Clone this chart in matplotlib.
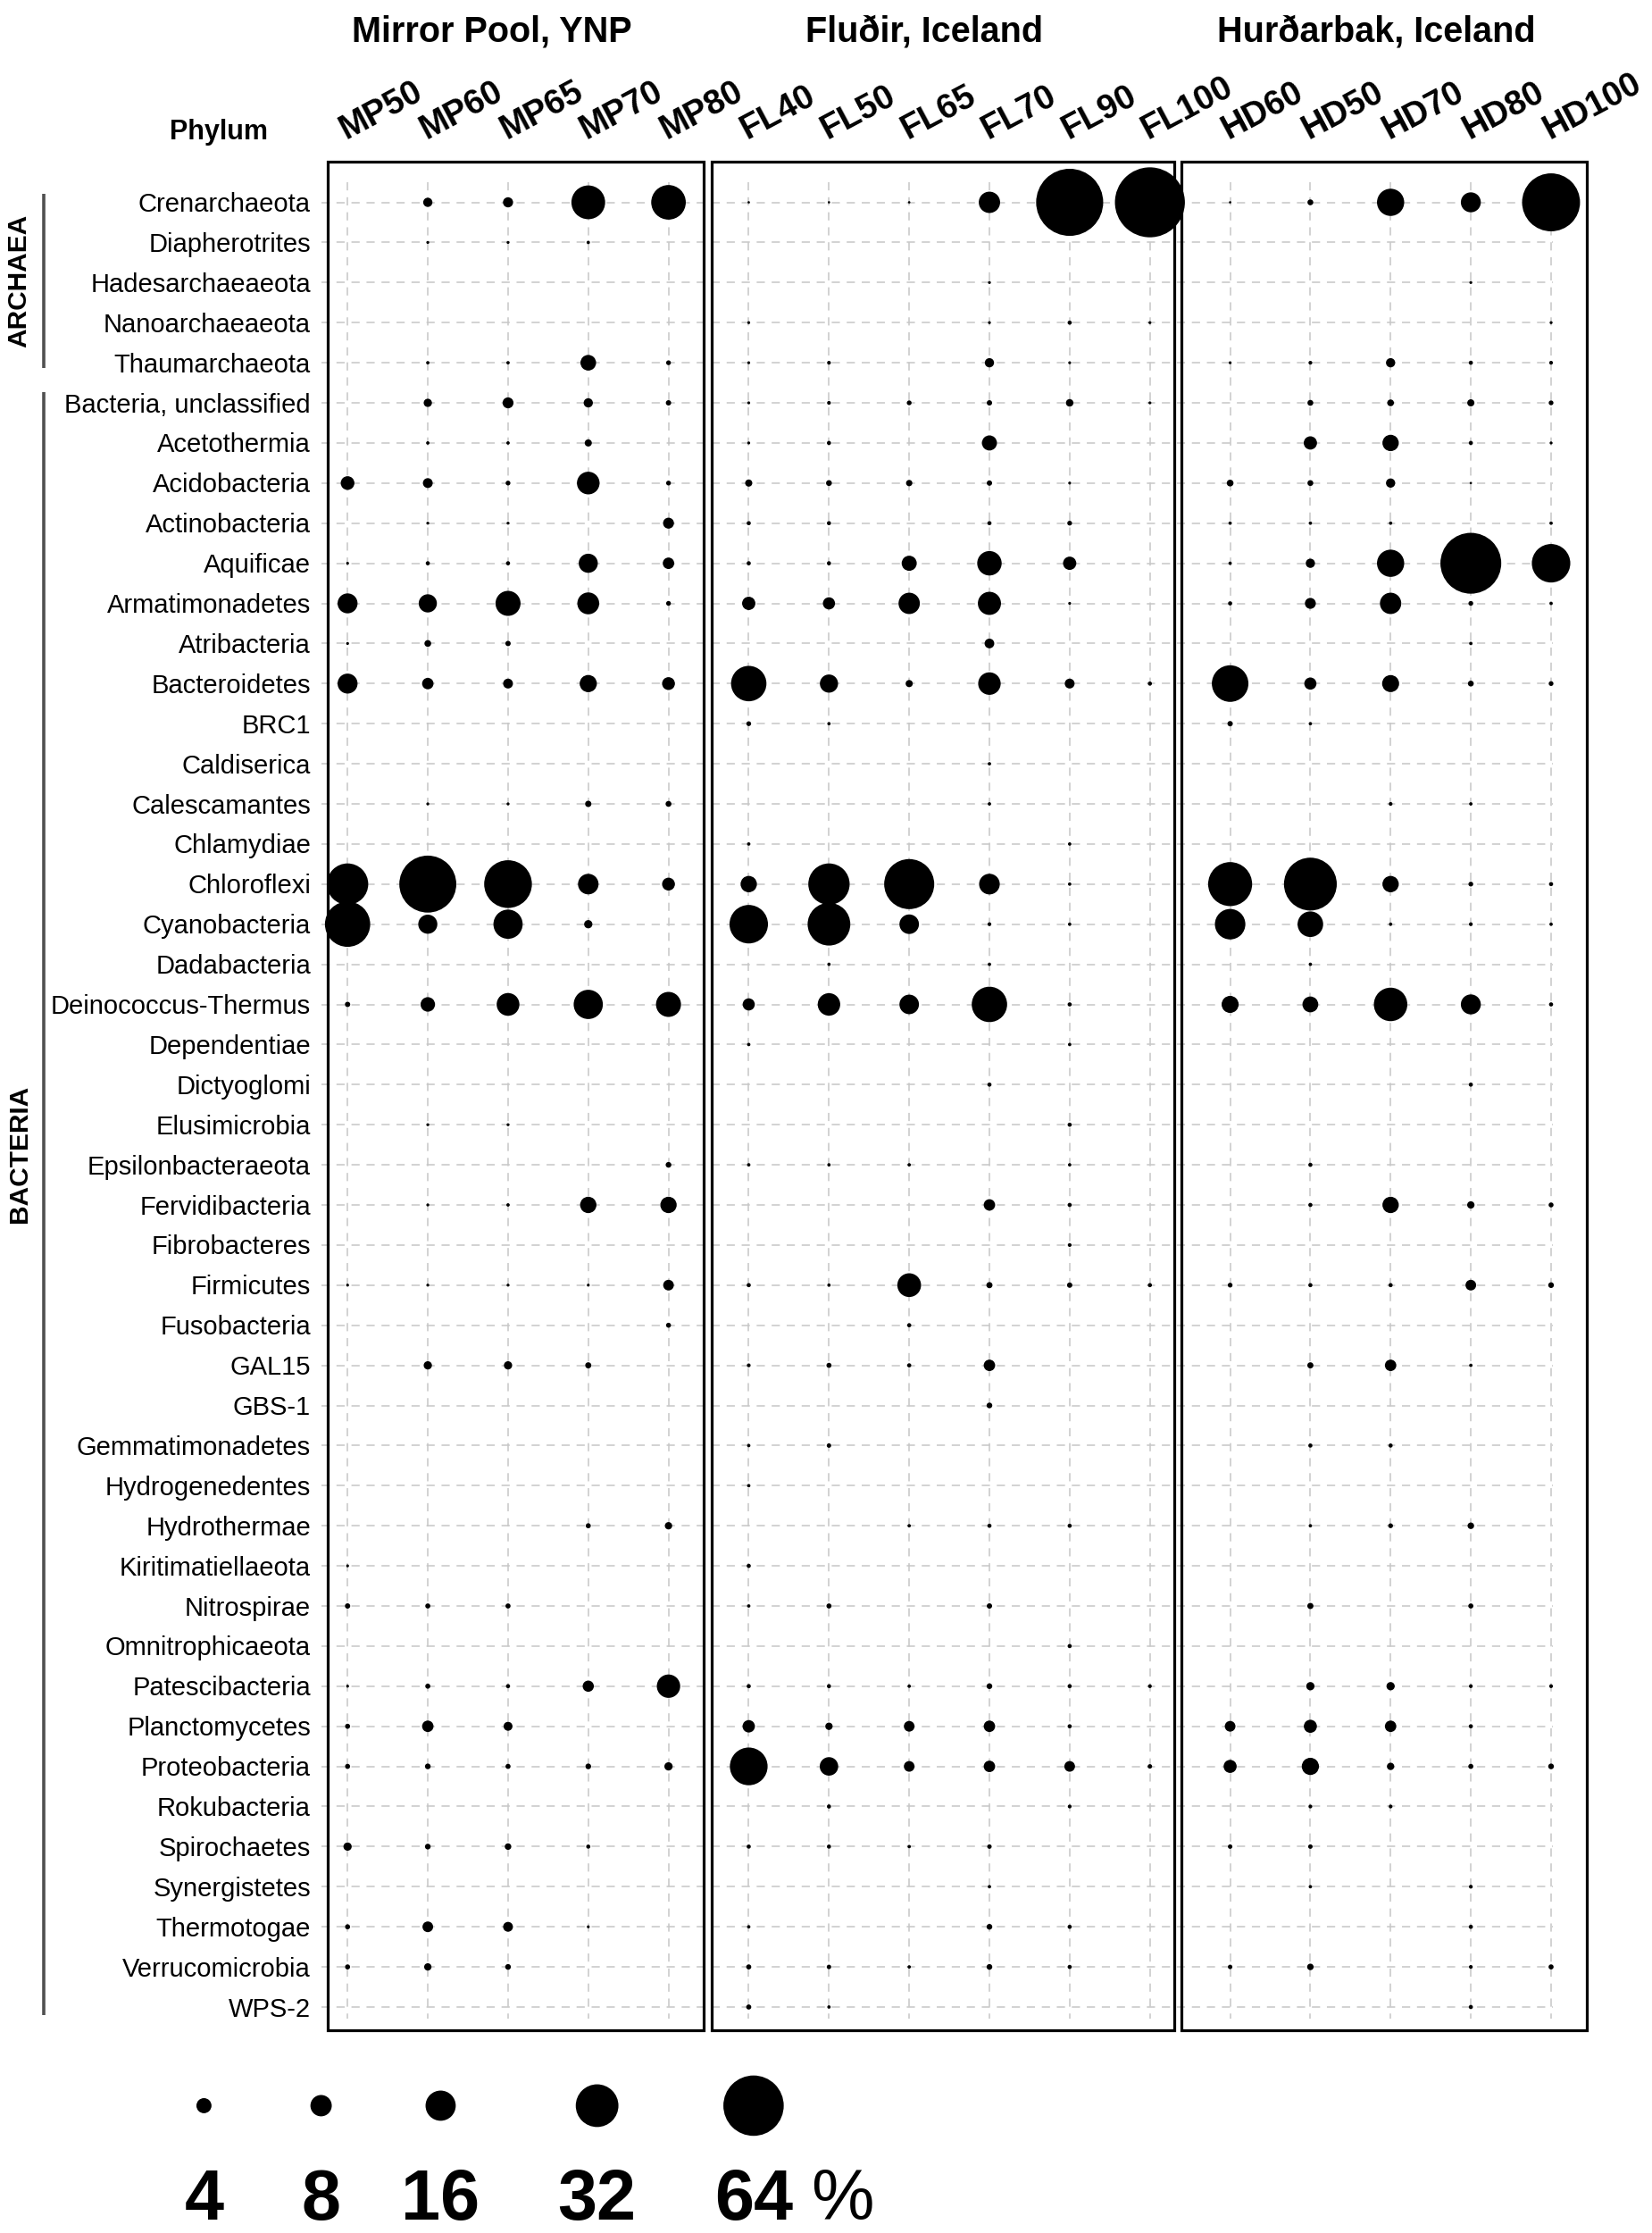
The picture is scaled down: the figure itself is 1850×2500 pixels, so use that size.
import numpy as np
import matplotlib
matplotlib.use("Agg")
import matplotlib.pyplot as plt
from matplotlib.patches import Rectangle

plt.rcParams["font.family"] = ["Liberation Sans", "DejaVu Sans"]

PHYLA = [
    "Crenarchaeota", "Diapherotrites", "Hadesarchaeaeota", "Nanoarchaeaeota",
    "Thaumarchaeota", "Bacteria, unclassified", "Acetothermia", "Acidobacteria",
    "Actinobacteria", "Aquificae", "Armatimonadetes", "Atribacteria",
    "Bacteroidetes", "BRC1", "Caldiserica", "Calescamantes", "Chlamydiae",
    "Chloroflexi", "Cyanobacteria", "Dadabacteria", "Deinococcus-Thermus",
    "Dependentiae", "Dictyoglomi", "Elusimicrobia", "Epsilonbacteraeota",
    "Fervidibacteria", "Fibrobacteres", "Firmicutes", "Fusobacteria", "GAL15",
    "GBS-1", "Gemmatimonadetes", "Hydrogenedentes", "Hydrothermae",
    "Kiritimatiellaeota", "Nitrospirae", "Omnitrophicaeota", "Patescibacteria",
    "Planctomycetes", "Proteobacteria", "Rokubacteria", "Spirochaetes",
    "Synergistetes", "Thermotogae", "Verrucomicrobia", "WPS-2",
]
N_ARCHAEA = 5

SAMPLES = ["MP50", "MP60", "MP65", "MP70", "MP80",
           "FL40", "FL50", "FL65", "FL70", "FL90", "FL100",
           "HD60", "HD50", "HD70", "HD80", "HD100"]
SITES = ["Mirror Pool, YNP", "Fluðir, Iceland", "Hurðarbak, Iceland"]

# relative abundance (%) per sample, in PHYLA order
MP50 = [0, 0, 0, 0, 0, 0, 0, 3.3, 0, 0.15,
        7, 0.15, 7, 0, 0, 0, 0, 30, 36, 0,
        0.5, 0, 0, 0, 0, 0, 0, 0.15, 0, 0,
        0, 0, 0, 0, 0.15, 0.5, 0, 0.15, 0.45, 0.45,
        0, 1.2, 0, 0.45, 0.45, 0]
MP60 = [1.5, 0.15, 0, 0, 0.2, 1.2, 0.2, 1.7, 0.15, 0.3,
        5.8, 0.8, 2.3, 0, 0, 0.15, 0, 57, 6.4, 0,
        3.7, 0, 0, 0.15, 0, 0.15, 0, 0.15, 0, 1.2,
        0, 0, 0, 0, 0, 0.45, 0, 0.45, 2.3, 0.57,
        0, 0.57, 0, 2.0, 0.95, 0]
MP65 = [1.8, 0.15, 0, 0, 0.2, 2.1, 0.2, 0.4, 0.15, 0.3,
        11, 0.5, 1.7, 0, 0, 0.15, 0, 40, 15, 0,
        9.1, 0, 0, 0.15, 0, 0.2, 0, 0.15, 0, 1.2,
        0, 0, 0, 0, 0, 0.45, 0, 0.3, 1.4, 0.45,
        0, 0.75, 0, 1.7, 0.57, 0]
MP70 = [20, 0.2, 0, 0, 4.3, 1.5, 0.9, 9, 0, 6.4,
        8.4, 0, 5.2, 0, 0, 0.7, 0, 7.4, 1.2, 0,
        15, 0, 0, 0, 0, 4.7, 0, 0.15, 0, 0.66,
        0, 0, 0, 0.45, 0, 0, 0, 2.2, 0, 0.57,
        0, 0.3, 0, 0.15, 0, 0]
MP80 = [21, 0, 0, 0, 0.4, 0.5, 0, 0.4, 2.1, 2.3,
        0.4, 0, 2.9, 0, 0, 0.6, 0, 2.9, 0, 0,
        11, 0, 0, 0, 0.57, 4.7, 0, 2.0, 0.43, 0,
        0, 0, 0, 0.95, 0, 0, 0, 9.6, 0, 1.2,
        0, 0, 0, 0, 0, 0]
FL40 = [0.1, 0, 0, 0.15, 0.15, 0.15, 0.15, 0.9, 0.3, 0.3,
        3.1, 0, 22, 0.4, 0, 0, 0.2, 4.7, 26, 0,
        2.6, 0.2, 0, 0, 0.2, 0, 0, 0.3, 0, 0.25,
        0, 0.2, 0.2, 0, 0.3, 0.2, 0, 0.3, 2.7, 25,
        0, 0.3, 0, 0.2, 0.45, 0.45]
FL50 = [0.1, 0, 0, 0, 0.25, 0.25, 0.3, 0.6, 0.3, 0.3,
        2.6, 0, 5.8, 0.2, 0, 0, 0, 30, 32, 0.2,
        8.9, 0, 0, 0, 0.2, 0, 0, 0.2, 0, 0.45,
        0, 0.35, 0, 0, 0, 0.45, 0, 0.3, 0.95, 6,
        0.3, 0.3, 0, 0, 0.35, 0.2]
FL65 = [0.1, 0, 0, 0, 0, 0.4, 0, 0.7, 0, 4,
        8, 0, 0.9, 0, 0, 0, 0, 44, 6.7, 0,
        6.7, 0, 0, 0, 0.2, 0, 0, 9.9, 0.3, 0.3,
        0, 0, 0, 0.2, 0, 0, 0, 0.2, 2.0, 2.0,
        0, 0.2, 0, 0, 0.2, 0]
FL70 = [8, 0, 0.15, 0.15, 1.5, 0.5, 4, 0.5, 0.3, 10.5,
        9.4, 1.65, 8.9, 0, 0.2, 0.2, 0, 7.5, 0.25, 0.2,
        22, 0, 0.3, 0, 0, 2.3, 0, 0.66, 0, 2.3,
        0.57, 0, 0, 0.3, 0, 0.5, 0, 0.57, 2.3, 2.3,
        0, 0.35, 0.2, 0.57, 0.57, 0]
FL90 = [79, 0, 0, 0.3, 0.15, 1.0, 0, 0.15, 0.4, 3.1,
        0.15, 0, 1.7, 0, 0, 0, 0.2, 0.2, 0.2, 0,
        0.3, 0.2, 0, 0.3, 0.2, 0.3, 0.25, 0.5, 0, 0,
        0, 0, 0, 0.3, 0, 0, 0.3, 0.3, 0.3, 2.0,
        0.25, 0, 0, 0.3, 0.3, 0]
FL100 = [86, 0, 0, 0.15, 0, 0.15, 0, 0, 0, 0,
         0, 0, 0.3, 0, 0, 0, 0, 0, 0, 0,
         0, 0, 0, 0, 0, 0, 0, 0.3, 0, 0,
         0, 0, 0, 0, 0, 0, 0, 0.25, 0, 0.35,
         0, 0, 0, 0, 0, 0]
HD60 = [0.1, 0, 0, 0, 0.15, 0, 0, 0.8, 0.2, 0.2,
        0.3, 0, 23.5, 0.5, 0, 0, 0, 34, 16.3, 0,
        5.1, 0, 0, 0, 0, 0, 0, 0.4, 0, 0,
        0, 0, 0, 0, 0, 0, 0, 0, 2.0, 3.0,
        0, 0.35, 0, 0, 0.35, 0]
HD50 = [0.6, 0, 0, 0, 0.25, 0.6, 3.1, 0.6, 0.2, 1.5,
        2.1, 0, 2.6, 0.2, 0, 0, 0, 49, 11.5, 0.2,
        4.4, 0, 0, 0, 0.3, 0.3, 0, 0.3, 0, 0.66,
        0, 0.3, 0, 0.2, 0, 0.66, 0, 1.2, 3.0, 5.2,
        0.25, 0.35, 0.2, 0, 0.75, 0]
HD70 = [13, 0, 0, 0, 1.5, 0.8, 4.7, 1.5, 0.2, 13,
        8, 0, 5.1, 0, 0, 0.25, 0, 4.7, 0.2, 0,
        19.7, 0, 0, 0, 0, 4.7, 0, 0.3, 0, 2.3,
        0, 0.3, 0, 0.4, 0, 0, 0, 1.2, 2.3, 0.95,
        0.25, 0, 0, 0, 0, 0]
HD80 = [7, 0, 0.15, 0, 0.3, 0.9, 0.3, 0.1, 0, 65,
        0.4, 0.2, 0.6, 0, 0, 0.2, 0, 0.4, 0.25, 0,
        7, 0, 0.3, 0, 0, 0.95, 0, 2.0, 0, 0.2,
        0, 0, 0, 0.75, 0, 0.45, 0, 0.25, 0.3, 0.45,
        0, 0, 0.25, 0.3, 0.25, 0.3]
HD100 = [59, 0, 0, 0.15, 0.25, 0.4, 0.15, 0, 0.2, 26,
         0.2, 0, 0.4, 0, 0, 0, 0, 0.3, 0.2, 0,
         0.3, 0, 0, 0, 0, 0.43, 0, 0.57, 0, 0,
         0, 0, 0, 0, 0, 0, 0, 0.25, 0, 0.57,
         0, 0, 0, 0, 0.45, 0]

ABUND = [MP50, MP60, MP65, MP70, MP80, FL40, FL50, FL65, FL70, FL90, FL100,
         HD60, HD50, HD70, HD80, HD100]

LEGEND_VALUES = [4, 8, 16, 32, 64]

# layout (data units: one column / one row)
SITE_X = [1.80, 7.19, 12.82]
BOXES = [(-0.25, 4.44), (4.54, 10.30), (10.39, 15.44)]
BOX_Y = (-1.02, 45.57)
LEGEND_X = [-1.79, -0.33, 1.16, 3.11, 5.06]
LEGEND_Y = 47.46
GRID = "#c6c6c6"
BAR = "#505050"
SIZE_K = 37.0  # marker area (pt^2) per percent


def main():
    fig = plt.figure(figsize=(18.5, 25), dpi=100)
    ax = fig.add_axes([0, 0, 1, 1])
    ax.set_xlim(-4.332, 16.258)
    ax.set_ylim(50.635, -5.045)
    ax.axis("off")

    rows = np.arange(len(PHYLA))
    cols = np.arange(len(SAMPLES))

    # dashed grid
    ax.hlines(rows, -0.33, 15.02, colors=GRID, linewidth=1.1,
              linestyles=(0, (6, 5)), zorder=1)
    ax.vlines(cols, -0.5, 45.3, colors=GRID, linewidth=1.1,
              linestyles=(0, (6, 5)), zorder=1)

    # bubbles
    for j, vals in enumerate(ABUND):
        vals = np.asarray(vals, dtype=float)
        keep = vals > 0
        ax.scatter(np.full(keep.sum(), j), rows[keep], s=SIZE_K * vals[keep],
                   color="black", linewidths=0, zorder=3, clip_on=False)

    # site boxes
    for (x0, x1) in BOXES:
        ax.add_patch(Rectangle((x0, BOX_Y[0]), x1 - x0, BOX_Y[1] - BOX_Y[0],
                               fill=False, edgecolor="black", lw=2.3,
                               zorder=4, clip_on=False))

    # site titles
    for name, x in zip(SITES, SITE_X):
        ax.text(x, -4.0, name, ha="center", va="baseline", fontsize=28.5,
                fontweight="bold")

    # sample labels
    for j, name in enumerate(SAMPLES):
        ax.text(j - 0.02, -1.56, name, rotation=28, rotation_mode="anchor",
                ha="left", va="baseline", fontsize=27.5, fontweight="bold")
    ax.text(-1.61, -1.56, "Phylum", ha="center", va="baseline",
            fontsize=22, fontweight="bold")

    # phylum labels
    for i, name in enumerate(PHYLA):
        ax.text(-0.46, i + 0.235, name, ha="right", va="baseline", fontsize=21)

    # domain brackets
    ax.plot([-3.79, -3.79], [-0.22, N_ARCHAEA - 0.88], color=BAR, lw=2.6,
            solid_capstyle="butt")
    ax.plot([-3.79, -3.79], [N_ARCHAEA - 0.27, 45.2], color=BAR, lw=2.6,
            solid_capstyle="butt")
    ax.text(-4.09, 1.95, "ARCHAEA", rotation=90, ha="center", va="center",
            fontsize=21.5, fontweight="bold")
    ax.text(-4.09, 23.73, "BACTERIA", rotation=90, ha="center", va="center",
            fontsize=21.5, fontweight="bold")

    # size legend
    ax.scatter(LEGEND_X, [LEGEND_Y] * len(LEGEND_VALUES),
               s=[SIZE_K * v for v in LEGEND_VALUES], color="black",
               linewidths=0, clip_on=False)
    for x, v in zip(LEGEND_X, LEGEND_VALUES):
        ax.text(x, 50.3, str(v), ha="center", va="baseline", fontsize=57,
                fontweight="bold")
    ax.text(5.78, 50.3, "%", ha="left", va="baseline", fontsize=57)

    fig.savefig("out.png", dpi=100, facecolor="white")
    plt.close(fig)


if __name__ == "__main__":
    main()
